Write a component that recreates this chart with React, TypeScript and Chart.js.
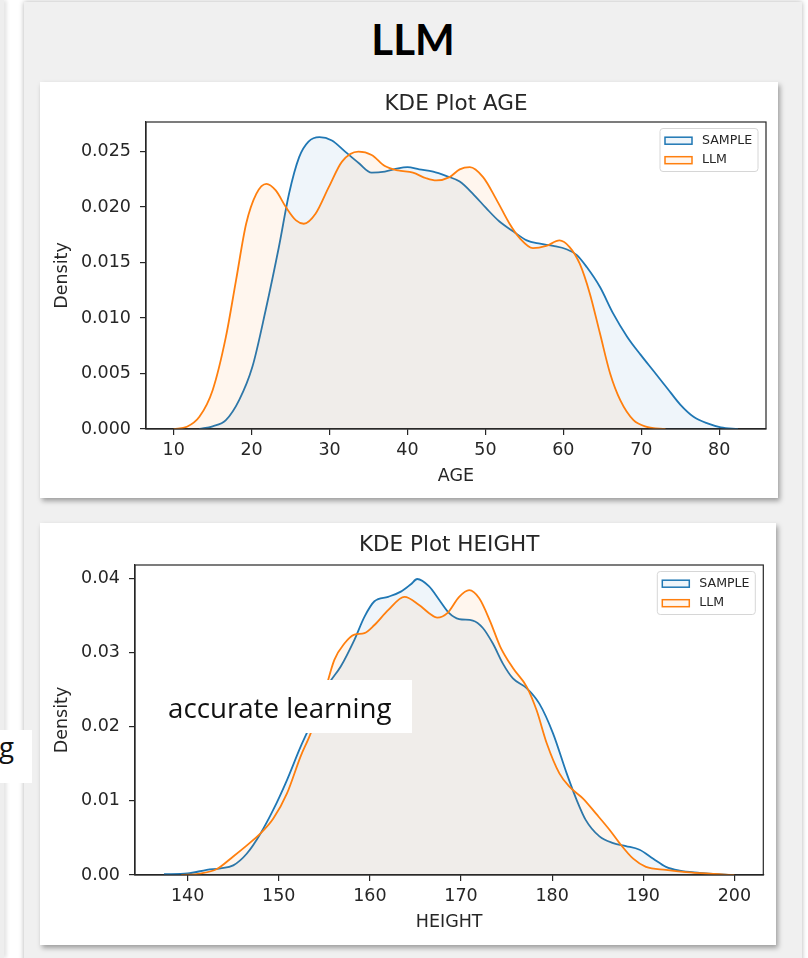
import React, { useEffect, useRef } from "react";
import { Chart, registerables } from "chart.js";

Chart.register(...registerables);

// ---------- DATA ----------
const SERIES_LABELS = ["SAMPLE", "LLM"];

const AGE_SAMPLE_X = [13.3, 15, 16.7, 18.4, 20.1, 21.8, 23.5, 24.8, 26.1, 27.3, 28.7, 30.3, 32, 33.7, 35.4, 37.1, 38.8, 40, 41.5, 43.3, 45, 46.7, 48.4, 50.1, 51.8, 53.6, 55.3, 57, 58.7, 60.4, 61.7, 63, 64.7, 66.4, 68.2, 69.9, 71.6, 73.3, 75, 76.7, 78.5, 80.2, 82.4];
const AGE_SAMPLE_DENSITY = [0, 0.00024, 0.0008, 0.0026, 0.0056, 0.0107, 0.0164, 0.0212, 0.0245, 0.0259, 0.0263, 0.026, 0.025, 0.024, 0.0231, 0.0232, 0.0235, 0.0236, 0.0234, 0.0232, 0.0228, 0.0223, 0.0212, 0.0199, 0.0187, 0.0178, 0.017, 0.0167, 0.0165, 0.0162, 0.0157, 0.0146, 0.0128, 0.0104, 0.0083, 0.0067, 0.0052, 0.0037, 0.0022, 0.0011, 0.0005, 0.00015, 0];

const AGE_LLM_X = [10, 11.7, 13.3, 15, 16.7, 18, 19.3, 20.6, 21.9, 23.1, 24.4, 25.7, 26.7, 28.2, 29.9, 31.6, 33.7, 35.4, 37.1, 38.8, 40.7, 42.4, 43.7, 45.4, 46.7, 48, 49.7, 51.4, 53.1, 54.4, 56.1, 57.8, 59.5, 60.8, 62.1, 63.4, 64.7, 66, 67.3, 69, 70.7, 73.1];
const AGE_LLM_DENSITY = [0, 0.0002, 0.0011, 0.0035, 0.0083, 0.0134, 0.0185, 0.0212, 0.0221, 0.0215, 0.02, 0.0188, 0.0185, 0.0194, 0.0218, 0.0241, 0.025, 0.0247, 0.0237, 0.0233, 0.0231, 0.0226, 0.0224, 0.0227, 0.0234, 0.0236, 0.0227, 0.0207, 0.0185, 0.0172, 0.0163, 0.0165, 0.017, 0.0164, 0.0149, 0.0122, 0.0086, 0.005, 0.0026, 0.0008, 0.0002, 0];

const HEIGHT_SAMPLE_X = [137.4, 140, 142.1, 143.6, 145, 146.5, 148, 149.4, 150.9, 152.4, 153.9, 155.3, 156.8, 158.3, 159.4, 160.5, 162, 163.4, 164.5, 165.2, 166.5, 167.6, 168.7, 169.8, 171.3, 172.4, 173.5, 174.6, 175.7, 177.2, 178.6, 180.1, 181.6, 182.7, 183.7, 185.2, 186.7, 188.1, 189.6, 191.1, 192.5, 194, 196.2, 198.1, 199.5];
const HEIGHT_SAMPLE_DENSITY = [0.0001, 0.0002, 0.0007, 0.0009, 0.0013, 0.0029, 0.0056, 0.0088, 0.0128, 0.0173, 0.0213, 0.0254, 0.0281, 0.0317, 0.0348, 0.0369, 0.0375, 0.0382, 0.0392, 0.0399, 0.0389, 0.0371, 0.0353, 0.0345, 0.0343, 0.0333, 0.0312, 0.0285, 0.0265, 0.0252, 0.0231, 0.0191, 0.0137, 0.0101, 0.0074, 0.0052, 0.0043, 0.0039, 0.0034, 0.0022, 0.0011, 0.0006, 0.0003, 0.0001, 0];

const HEIGHT_LLM_X = [139.3, 141.4, 143.2, 145, 146.5, 148, 149.4, 150.9, 152.4, 153.5, 155, 156.1, 157.2, 158.3, 159.4, 160.5, 162, 163.8, 165.4, 166.5, 167.4, 168.5, 169.8, 170.9, 172, 173.2, 174.3, 175.7, 177.2, 178.3, 179.4, 180.8, 181.9, 183.4, 184.8, 186.3, 187.4, 188.9, 190.3, 192.5, 194.7, 196.9, 200];
const HEIGHT_LLM_DENSITY = [0, 0.0002, 0.0008, 0.0025, 0.004, 0.0056, 0.0076, 0.011, 0.016, 0.0191, 0.0245, 0.029, 0.0312, 0.0324, 0.0326, 0.0337, 0.0357, 0.0375, 0.0364, 0.0353, 0.0347, 0.0353, 0.0375, 0.0384, 0.0373, 0.0342, 0.0308, 0.0279, 0.0254, 0.0222, 0.0178, 0.0137, 0.0119, 0.0103, 0.0083, 0.0061, 0.0043, 0.0022, 0.0011, 0.0007, 0.0004, 0.0002, 0];

const AGE_X_TICKS = [10, 20, 30, 40, 50, 60, 70, 80];
const AGE_Y_TICKS = [0, 0.005, 0.01, 0.015, 0.02, 0.025];
const HEIGHT_X_TICKS = [140, 150, 160, 170, 180, 190, 200];
const HEIGHT_Y_TICKS = [0, 0.01, 0.02, 0.03, 0.04];

// ---------- STYLE ----------
const BLUE = "#1f77b4";
const ORANGE = "#ff7f0e";
const BLUE_FILL = "rgba(31,119,180,0.07)";
const ORANGE_FILL = "rgba(255,127,14,0.07)";
const INK = "#262626";
const MPL_FONT = "DejaVu Sans";

const toPoints = (xs: number[], ys: number[]) => xs.map((x, i) => ({ x, y: ys[i] }));

const framePlugin = {
  id: "kdeFrame",
  afterDraw(chart: any, _args: any, opts: any) {
    const { ctx, chartArea: a } = chart;
    ctx.save();
    // spines
    ctx.strokeStyle = INK;
    ctx.lineWidth = 1.2;
    ctx.strokeRect(a.left, a.top, a.right - a.left, a.bottom - a.top);
    // title
    ctx.fillStyle = INK;
    ctx.font = `21.5px "${MPL_FONT}"`;
    ctx.textAlign = "center";
    ctx.textBaseline = "middle";
    ctx.fillText(opts.title, (a.left + a.right) / 2, a.top - opts.titleGap);
    // legend
    const bw = 98;
    const bh = 43;
    const bx = a.right - 8 - bw;
    const by = a.top + 6.5;
    const r = 3;
    ctx.beginPath();
    ctx.moveTo(bx + r, by);
    ctx.lineTo(bx + bw - r, by);
    ctx.quadraticCurveTo(bx + bw, by, bx + bw, by + r);
    ctx.lineTo(bx + bw, by + bh - r);
    ctx.quadraticCurveTo(bx + bw, by + bh, bx + bw - r, by + bh);
    ctx.lineTo(bx + r, by + bh);
    ctx.quadraticCurveTo(bx, by + bh, bx, by + bh - r);
    ctx.lineTo(bx, by + r);
    ctx.quadraticCurveTo(bx, by, bx + r, by);
    ctx.closePath();
    ctx.fillStyle = "rgba(255,255,255,0.85)";
    ctx.fill();
    ctx.strokeStyle = "#d6d6d6";
    ctx.lineWidth = 1;
    ctx.stroke();
    chart.data.datasets.forEach((ds: any, i: number) => {
      const cy = by + 12.2 + i * 19.5;
      ctx.fillStyle = "#ffffff";
      ctx.fillRect(bx + 5, cy - 3.5, 27, 7);
      ctx.fillStyle = ds.backgroundColor;
      ctx.fillRect(bx + 5, cy - 3.5, 27, 7);
      ctx.strokeStyle = ds.borderColor;
      ctx.lineWidth = 1.5;
      ctx.strokeRect(bx + 5, cy - 3.5, 27, 7);
      ctx.fillStyle = INK;
      ctx.font = `12.6px "${MPL_FONT}"`;
      ctx.textAlign = "left";
      ctx.textBaseline = "middle";
      ctx.fillText(ds.label, bx + 42, cy);
    });
    ctx.restore();
  },
};

type KdeProps = {
  width: number;
  height: number;
  title: string;
  titleGap: number;
  xLabel: string;
  xMin: number;
  xMax: number;
  yMax: number;
  xTicks: number[];
  yTicks: number[];
  yDecimals: number;
  sampleX: number[];
  sampleY: number[];
  llmX: number[];
  llmY: number[];
  padTop: number;
  padRight: number;
  yAxisWidth: number;
  xAxisHeight: number;
  xTitlePad: number;
};

function KdeChart(p: KdeProps) {
  const ref = useRef<HTMLCanvasElement | null>(null);
  useEffect(() => {
    if (!ref.current) return;
    const tickFont = { family: MPL_FONT, size: 17.5 };
    const grid = { drawOnChartArea: false, drawTicks: true, tickLength: 6, color: INK, lineWidth: 1.2 };
    const border = { display: true, color: INK, width: 1.2 };
    const chart = new Chart(ref.current, {
      type: "line",
      data: {
        datasets: [
          {
            label: SERIES_LABELS[0],
            data: toPoints(p.sampleX, p.sampleY),
            borderColor: BLUE,
            backgroundColor: BLUE_FILL,
            fill: "origin",
            order: 1,
          },
          {
            label: SERIES_LABELS[1],
            data: toPoints(p.llmX, p.llmY),
            borderColor: ORANGE,
            backgroundColor: ORANGE_FILL,
            fill: "origin",
            order: 0,
          },
        ],
      },
      options: {
        animation: false,
        responsive: false,
        maintainAspectRatio: false,
        events: [],
        layout: { padding: { top: p.padTop, right: p.padRight, left: 0, bottom: 0 } },
        elements: {
          point: { radius: 0 },
          line: { borderWidth: 1.8, cubicInterpolationMode: "monotone" },
        },
        plugins: {
          legend: { display: false },
          title: { display: false },
          tooltip: { enabled: false },
          kdeFrame: { title: p.title, titleGap: p.titleGap },
        } as any,
        scales: {
          x: {
            type: "linear",
            min: p.xMin,
            max: p.xMax,
            afterBuildTicks: (s: any) => {
              s.ticks = p.xTicks.map((v) => ({ value: v }));
            },
            afterFit: (s: any) => {
              s.height = p.xAxisHeight;
            },
            grid,
            border,
            ticks: {
              color: INK,
              font: tickFont,
              padding: 5.2,
              maxRotation: 0,
              autoSkip: false,
              callback: (v: any) => String(v),
            },
            title: {
              display: true,
              text: p.xLabel,
              color: INK,
              font: tickFont,
              padding: { top: 0, bottom: p.xTitlePad },
            },
          },
          y: {
            type: "linear",
            min: 0,
            max: p.yMax,
            afterBuildTicks: (s: any) => {
              s.ticks = p.yTicks.map((v) => ({ value: v }));
            },
            afterFit: (s: any) => {
              s.width = p.yAxisWidth;
            },
            grid,
            border,
            ticks: {
              color: INK,
              font: tickFont,
              padding: 9,
              autoSkip: false,
              callback: (v: any) => Number(v).toFixed(p.yDecimals),
            },
            title: {
              display: true,
              text: "Density",
              color: INK,
              font: tickFont,
              padding: { top: 12, bottom: 0 },
            },
          },
        },
      } as any,
      plugins: [framePlugin],
    });
    return () => chart.destroy();
  }, []);
  return <canvas ref={ref} width={p.width} height={p.height} style={{ display: "block" }} />;
}

export default function App() {
  return (
    <div
      style={{
        position: "absolute",
        left: 0,
        top: 0,
        width: 808,
        height: 958,
        overflow: "hidden",
        background: "#ffffff",
      }}
    >
      {/* left neighbour edge */}
      <div style={{ position: "absolute", left: 0, top: 0, width: 4, height: 958, background: "#eeeeee", boxShadow: "2px 0 4px rgba(0,0,0,0.15)" }} />
      {/* panel */}
      <div
        style={{
          position: "absolute",
          left: 24,
          top: 2,
          width: 778,
          height: 980,
          background: "#f0f0f0",
          boxShadow: "0 0 5px rgba(0,0,0,0.3)",
        }}
      />
      <div
        style={{
          position: "absolute",
          left: 24,
          top: 15,
          width: 778,
          textAlign: "center",
          fontFamily: "Lato, 'Open Sans', sans-serif",
          fontWeight: 700,
          fontSize: 42,
          lineHeight: "48px",
          color: "#000",
        }}
      >
        LLM
      </div>
      {/* card 1 */}
      <div
        style={{
          position: "absolute",
          left: 40,
          top: 82,
          width: 738,
          height: 416,
          background: "#fff",
          boxShadow: "2px 3px 5px rgba(0,0,0,0.35)",
        }}
      >
        <KdeChart
          width={738}
          height={416}
          title="KDE Plot AGE"
          titleGap={17.5}
          xLabel="AGE"
          xMin={6.45}
          xMax={86}
          yMax={0.02767}
          xTicks={AGE_X_TICKS}
          yTicks={AGE_Y_TICKS}
          yDecimals={3}
          sampleX={AGE_SAMPLE_X}
          sampleY={AGE_SAMPLE_DENSITY}
          llmX={AGE_LLM_X}
          llmY={AGE_LLM_DENSITY}
          padTop={40}
          padRight={12}
          yAxisWidth={106}
          xAxisHeight={69}
          xTitlePad={11}
        />
      </div>
      {/* card 2 */}
      <div
        style={{
          position: "absolute",
          left: 40,
          top: 523,
          width: 736,
          height: 422,
          background: "#fff",
          boxShadow: "2px 3px 5px rgba(0,0,0,0.35)",
        }}
      >
        <KdeChart
          width={736}
          height={422}
          title="KDE Plot HEIGHT"
          titleGap={19.5}
          xLabel="HEIGHT"
          xMin={134.22}
          xMax={203.18}
          yMax={0.04179}
          xTicks={HEIGHT_X_TICKS}
          yTicks={HEIGHT_Y_TICKS}
          yDecimals={2}
          sampleX={HEIGHT_SAMPLE_X}
          sampleY={HEIGHT_SAMPLE_DENSITY}
          llmX={HEIGHT_LLM_X}
          llmY={HEIGHT_LLM_DENSITY}
          padTop={42}
          padRight={12.7}
          yAxisWidth={95}
          xAxisHeight={70}
          xTitlePad={12.5}
        />
      </div>
      {/* overlay text boxes */}
      <div
        style={{
          position: "absolute",
          left: 155,
          top: 680,
          width: 257,
          height: 53,
          background: "#fff",
          fontFamily: "'Open Sans', sans-serif",
          fontSize: 27.7,
          lineHeight: "55px",
          color: "#111",
          whiteSpace: "nowrap",
        }}
      >
        <span style={{ position: "absolute", left: 13, top: 0 }}>accurate learning</span>
      </div>
      <div
        style={{
          position: "absolute",
          left: 0,
          top: 730,
          width: 32,
          height: 53,
          background: "#fff",
          fontFamily: "'Open Sans', sans-serif",
          fontSize: 27.7,
          lineHeight: "33px",
          color: "#111",
          overflow: "hidden",
        }}
      >
        <span style={{ position: "absolute", left: -1, top: 0 }}>g</span>
      </div>
    </div>
  );
}
